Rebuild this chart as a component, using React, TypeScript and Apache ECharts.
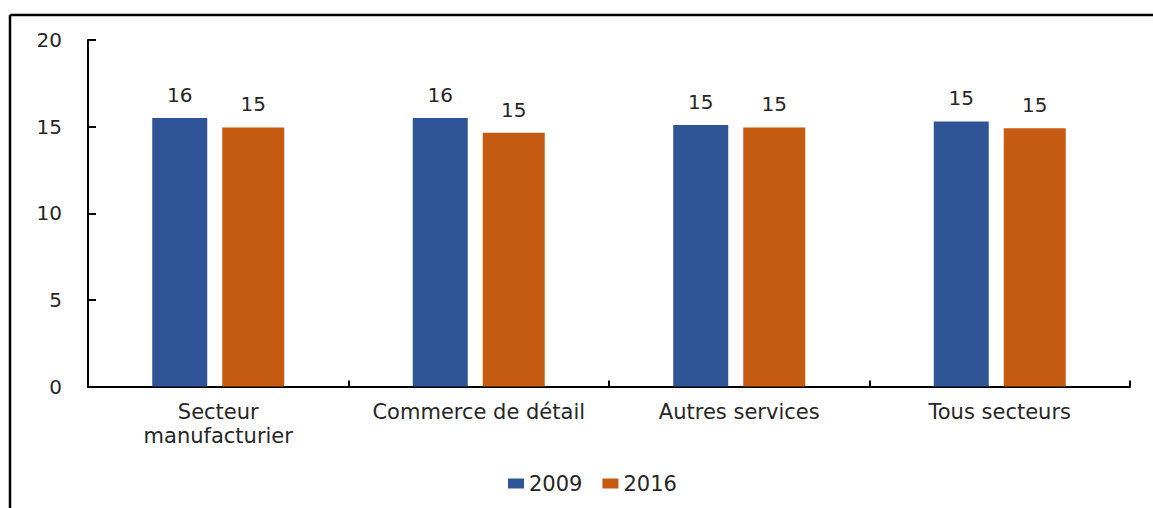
import React, { useEffect, useRef } from "react";
import * as echarts from "echarts";

const categories = ["Secteur\nmanufacturier", "Commerce de détail", "Autres services", "Tous secteurs"];
const values2009 = [15.5, 15.5, 15.1, 15.3];
const values2016 = [14.95, 14.65, 14.95, 14.9];
const seriesNames = ["2009", "2016"];
const yTicks = { min: 0, max: 20, interval: 5 };

const FONT = "DejaVu Sans";
const TEXT = "#262626";

export default function App() {
  const ref = useRef<HTMLDivElement>(null);
  useEffect(() => {
    document.body.style.margin = "0";
    const chart = echarts.init(ref.current!, null, { renderer: "svg" });
    const labelOpt = {
      show: true,
      position: "top",
      distance: 13,
      fontFamily: FONT,
      fontSize: 20,
      color: TEXT,
      formatter: (p: any) => String(Math.round(p.value)),
    };
    chart.setOption({
      animation: false,
      backgroundColor: "#ffffff",
      grid: { left: 88, right: 23, top: 40, bottom: 121.5, containLabel: false },
      legend: {
        data: seriesNames,
        left: 503,
        top: 468,
        itemWidth: 16,
        itemHeight: 10,
        itemGap: 20,
        icon: "rect",
        textStyle: { fontFamily: FONT, fontSize: 21, color: TEXT },
      },
      xAxis: {
        type: "category",
        data: categories,
        axisLine: { lineStyle: { color: "#000", width: 2 } },
        axisTick: { show: true, inside: true, length: 6, lineStyle: { color: "#000", width: 2 } },
        axisLabel: { fontFamily: FONT, fontSize: 21, color: TEXT, margin: 13, lineHeight: 24, interval: 0 },
      },
      yAxis: {
        type: "value",
        min: yTicks.min,
        max: yTicks.max,
        interval: yTicks.interval,
        splitLine: { show: false },
        axisLine: { show: true, lineStyle: { color: "#000", width: 2 } },
        axisTick: { show: true, inside: true, length: 8, lineStyle: { color: "#000", width: 2 } },
        axisLabel: { fontFamily: FONT, fontSize: 20, color: TEXT, margin: 26 },
      },
      graphic: [
        { type: "line", shape: { x1: 10, y1: 15, x2: 1153, y2: 15 }, style: { stroke: "#000", lineWidth: 2.5 } },
        { type: "line", shape: { x1: 10, y1: 15, x2: 10, y2: 508 }, style: { stroke: "#000", lineWidth: 2.5 } },
      ],
      series: [
        {
          name: seriesNames[0],
          type: "bar",
          data: values2009,
          barWidth: 55,
          barGap: "27.3%",
          itemStyle: { color: "#2F5597" },
          label: labelOpt,
        },
        {
          name: seriesNames[1],
          type: "bar",
          data: values2016,
          barWidth: 62,
          barGap: "27.3%",
          itemStyle: { color: "#C55A11" },
          label: labelOpt,
        },
      ],
    });
    return () => chart.dispose();
  }, []);
  return <div ref={ref} style={{ width: 1153, height: 508 }} />;
}
